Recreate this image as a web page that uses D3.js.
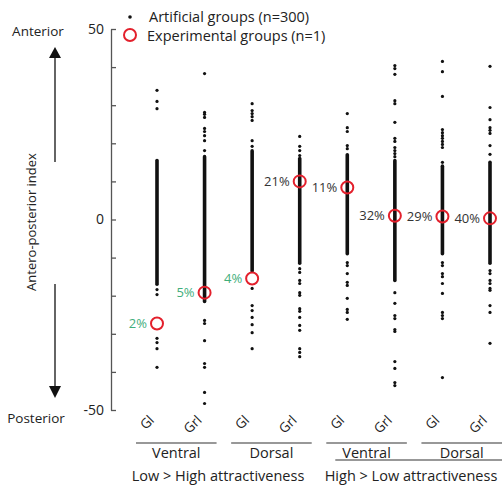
<!DOCTYPE html>
<html><head><meta charset="utf-8">
<script src="https://cdn.jsdelivr.net/npm/d3@7/dist/d3.min.js"></script>
<style>body{margin:0;background:#fff}svg{display:block}text{font-family:"Open Sans",sans-serif;fill:#222}</style>
</head><body>
<svg id="c" width="502" height="489"></svg>
<script>
const categories = ["Gl","Grl","Gl","Grl","Gl","Grl","Gl","Grl"];
const regions = ["Ventral","Dorsal","Ventral","Dorsal"];
const conditions = ["Low > High attractiveness","High > Low attractiveness"];
const yTickValues = [-50,-40,-30,-20,-10,0,10,20,30,40,50];
const yTickLabels = [-50,0,50];
// continuous dense streaks of artificial-group points [top, bottom]
const denseTop =    [15.5, 16.5, 18.0, 16.0, 17.0, 15.5, 14.0, 15.0];
const denseBottom = [-17.0,-21.5,-13.5,-11.5,-9.0,-16.0,-9.0,-11.5];
// individually visible artificial-group points
const sparse1 = [33.9,31.0,29.1,-18.4,-19.7,-31.2,-32.3,-33.9,-38.8];
const sparse2 = [38.3,28.1,27.6,26.8,23.9,23.1,22.0,20.7,18.1,-26.5,-27.3,-31.8,-37.8,-38.8,-45.4,-48.3];
const sparse3 = [30.4,28.6,27.8,27.0,26.0,20.7,19.2,-18.1,-22.6,-23.9,-25.7,-27.6,-29.7,-33.9];
const sparse4 = [21.8,19.2,18.1,16.8,-12.9,-13.9,-16.0,-16.8,-19.2,-19.9,-23.4,-24.1,-25.7,-27.8,-29.1,-33.9,-34.9,-36.0];
const sparse5 = [27.8,24.1,23.1,19.4,18.6,-11.3,-12.1,-14.2,-16.5,-17.3,-20.7,-23.6,-24.4,-26.2];
const sparse6 = [40.4,39.6,38.1,31.2,30.4,25.5,21.3,20.5,18.9,18.1,17.3,16.5,-19.2,-22.0,-25.2,-26.0,-28.9,-29.4,-37.3,-39.1,-42.8,-43.6];
const sparse7 = [41.5,38.8,32.3,23.6,22.8,22.0,21.3,20.5,19.7,18.9,15.0,-11.3,-12.1,-14.2,-15.0,-16.8,-19.4,-24.4,-25.2,-26.0,-41.5];
const sparse8 = [40.2,29.4,26.2,24.1,23.4,22.6,19.4,17.1,-13.4,-14.2,-16.0,-16.8,-18.1,-18.6,-22.6,-24.4,-32.5];
const sparse = [sparse1,sparse2,sparse3,sparse4,sparse5,sparse6,sparse7,sparse8];
const experimental = [-27.3,-19.2,-15.5,10.0,8.4,1.0,0.8,0.3];
const percentLabels = ["2%","5%","4%","21%","11%","32%","29%","40%"];
const percentLow = [true,true,true,false,false,false,false,false];

const svg = d3.select("#c");
const x = d3.scaleLinear().domain([0,7]).range([157,490]);
const y = d3.scaleLinear().domain([-50,50]).range([410,29]);
const red = "#e3202c", green = "#3fae7c";

// y axis
const ax = svg.append("g").attr("transform","translate(111,0)")
  .call(d3.axisRight(y).tickValues(yTickValues).tickSize(5).tickSizeOuter(0).tickFormat(""));
ax.selectAll("path,line").attr("stroke","#555").attr("stroke-width",1.3);
svg.selectAll(".ylab").data(yTickLabels).join("text")
  .attr("x",104).attr("y",d=>y(d)).attr("dy","0.35em").attr("text-anchor","end")
  .attr("font-size",14).text(d=>d);

// axis title & arrows
svg.append("text").attr("transform","translate(36,222) rotate(-90)").attr("text-anchor","middle")
  .attr("font-size",13).text("Antero-posterior index");
svg.append("text").attr("x",38).attr("y",36).attr("text-anchor","middle").attr("font-size",13.5).text("Anterior");
svg.append("text").attr("x",36).attr("y",423).attr("text-anchor","middle").attr("font-size",13.5).text("Posterior");
const ar = svg.append("g").attr("stroke","#111").attr("stroke-width",1.3);
ar.append("line").attr("x1",55).attr("x2",55).attr("y1",56).attr("y2",162);
ar.append("line").attr("x1",55).attr("x2",55).attr("y1",284).attr("y2",388);
svg.append("path").attr("d","M55,47L61,58L49,58Z").attr("fill","#111");
svg.append("path").attr("d","M55,398L61,386L49,386Z").attr("fill","#111");

// dense streaks
svg.selectAll(".dense").data(categories).join("rect")
  .attr("x",(d,i)=>x(i)-1.8).attr("width",3.6)
  .attr("y",(d,i)=>y(denseTop[i])-1.8)
  .attr("height",(d,i)=>y(denseBottom[i])-y(denseTop[i])+3.6)
  .attr("rx",1.8).attr("fill","#111");

// sparse dots
sparse.forEach((arr,i)=>{
  svg.selectAll(".s"+i).data(arr).join("circle")
    .attr("cx",x(i)).attr("cy",d=>y(d)).attr("r",1.6).attr("fill","#111");
});

// percent labels
svg.selectAll(".pct").data(percentLabels).join("text")
  .attr("x",(d,i)=>x(i)-10).attr("y",(d,i)=>y(experimental[i])).attr("dy","0.36em")
  .attr("text-anchor","end").attr("font-size",13)
  .style("fill",(d,i)=>percentLow[i]?green:"#333").text(d=>d);

// experimental circles
svg.selectAll(".exp").data(experimental).join("circle")
  .attr("cx",(d,i)=>x(i)).attr("cy",d=>y(d)).attr("r",6)
  .attr("fill","none").attr("stroke",red).attr("stroke-width",2);

// legend
svg.append("circle").attr("cx",130).attr("cy",17).attr("r",1.8).attr("fill","#111");
svg.append("text").attr("x",149).attr("y",22).attr("font-size",14.5).text("Artificial groups (n=300)");
svg.append("circle").attr("cx",130).attr("cy",35).attr("r",6).attr("fill","none").attr("stroke",red).attr("stroke-width",2);
svg.append("text").attr("x",147).attr("y",41).attr("font-size",14.5).text("Experimental groups (n=1)");

// x category labels
svg.selectAll(".cat").data(categories).join("text")
  .attr("transform",(d,i)=>`translate(${x(i)-2},${421}) rotate(-45)`)
  .attr("text-anchor","end").attr("font-size",13.5).text(d=>d);

// region lines & labels
regions.forEach((r,j)=>{
  const x0 = x(2*j)-21, x1 = x(2*j+1)+12;
  svg.append("line").attr("x1",x0).attr("x2",x1).attr("y1",443).attr("y2",443).attr("stroke","#333").attr("stroke-width",1.2);
  svg.append("text").attr("x",(x0+x1)/2).attr("y",458).attr("text-anchor","middle").attr("font-size",14.5).text(r);
});
svg.append("line").attr("x1",x(4)-12).attr("x2",x(7)+12).attr("y1",460).attr("y2",460).attr("stroke","#333").attr("stroke-width",1.2);
svg.append("text").attr("x",218).attr("y",481).attr("text-anchor","middle").attr("font-size",14.5).text(conditions[0]);
svg.append("text").attr("x",411).attr("y",481).attr("text-anchor","middle").attr("font-size",14.5).text(conditions[1]);
</script>
</body></html>
